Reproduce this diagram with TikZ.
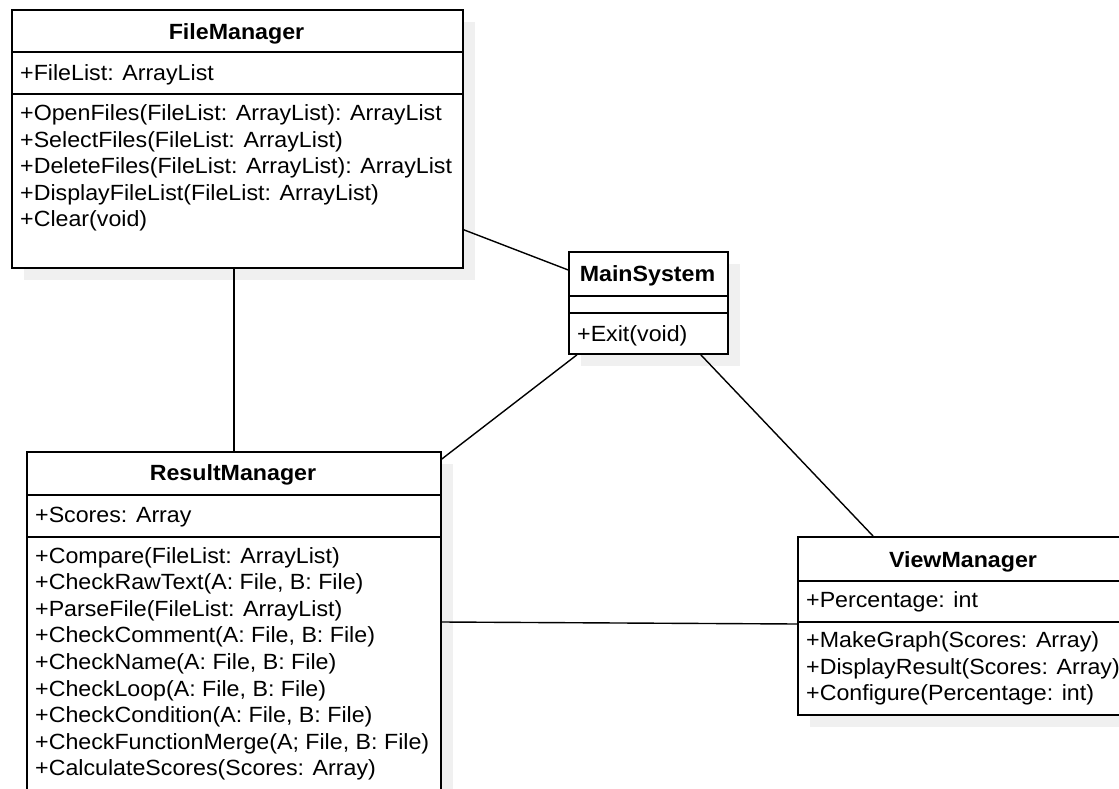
\documentclass[tikz,border=0pt]{standalone}
\usepackage{fontspec}
\setmainfont[FakeStretch=1.055]{Liberation Sans}
\usetikzlibrary{shadows}
\definecolor{shadowgray}{RGB}{240,240,240}
\tikzset{
  classbox/.style={rectangle, draw=black, fill=white, line width=1.8pt, inner sep=0pt, anchor=north west,
    drop shadow={shadow xshift=12pt, shadow yshift=-12pt, fill=shadowgray, opacity=1}},
  sepline/.style={line width=1.8pt, draw=black},
  classtitle/.style={font=\fontsize{22}{26}\selectfont\bfseries, anchor=base, inner sep=0pt},
  member/.style={font=\fontsize{22}{26}\selectfont, anchor=base west, inner sep=0pt},
  assoc/.style={line width=1.4pt, draw=black},
}
\begin{document}
\begin{tikzpicture}[x=1pt, y=-1pt]
\useasboundingbox (0,0) rectangle (1119,789);
\clip (0,0) rectangle (1119,789);

% ---------- FileManager ----------
\node[classbox, minimum width=451pt, minimum height=258pt] (fm) at (11,9) {};
\draw[sepline] ([yshift=-43pt]fm.north west) -- ([yshift=-43pt]fm.north east);
\draw[sepline] ([yshift=-85pt]fm.north west) -- ([yshift=-85pt]fm.north east);
\node[classtitle] (fm-t) at (236.5,39.5) {FileManager};
\node[member] (fm-a1) at (20,81) {+FileList: ArrayList};
\foreach \t [count=\i from 0] in {
  {+OpenFiles(FileList: ArrayList): ArrayList},
  {+SelectFiles(FileList: ArrayList)},
  {+DeleteFiles(FileList: ArrayList): ArrayList},
  {+DisplayFileList(FileList: ArrayList)},
  {+Clear(void)}}
  \node[member] (fm-m\i) at (20,120.7+26.5*\i) {\t};

% ---------- MainSystem ----------
\node[classbox, minimum width=159pt, minimum height=102pt] (ms) at (568,251) {};
\draw[sepline] ([yshift=-45pt]ms.north west) -- ([yshift=-45pt]ms.north east);
\draw[sepline] ([yshift=-62pt]ms.north west) -- ([yshift=-62pt]ms.north east);
\node[classtitle] (ms-t) at (647.5,281.5) {MainSystem};
\node[member] (ms-m0) at (577,341) {+Exit(void)};

% ---------- ResultManager ----------
\node[classbox, minimum width=414pt, minimum height=380pt] (rm) at (26,451) {};
\draw[sepline] ([yshift=-44pt]rm.north west) -- ([yshift=-44pt]rm.north east);
\draw[sepline] ([yshift=-86pt]rm.north west) -- ([yshift=-86pt]rm.north east);
\node[classtitle] (rm-t) at (233,480) {ResultManager};
\node[member] (rm-a1) at (35,522) {+Scores: Array};
\foreach \t [count=\i from 0] in {
  {+Compare(FileList: ArrayList)},
  {+CheckRawText(A: File, B: File)},
  {+ParseFile(FileList: ArrayList)},
  {+CheckComment(A: File, B: File)},
  {+CheckName(A: File, B: File)},
  {+CheckLoop(A: File, B: File)},
  {+CheckCondition(A: File, B: File)},
  {+CheckFunctionMerge(A; File, B: File)},
  {+CalculateScores(Scores: Array)}}
  \node[member] (rm-m\i) at (35,563+26.6*\i) {\t};

% ---------- ViewManager ----------
\node[classbox, minimum width=332pt, minimum height=178pt] (vm) at (797,536) {};
\draw[sepline] ([yshift=-45pt]vm.north west) -- ([yshift=-45pt]vm.north east);
\draw[sepline] ([yshift=-86pt]vm.north west) -- ([yshift=-86pt]vm.north east);
\node[classtitle] (vm-t) at (963,567.5) {ViewManager};
\node[member] (vm-a1) at (806,607) {+Percentage: int};
\foreach \t [count=\i from 0] in {
  {+MakeGraph(Scores: Array)},
  {+DisplayResult(Scores: Array)},
  {+Configure(Percentage: int)}}
  \node[member] (vm-m\i) at (806,647.7+26.6*\i) {\t};

% ---------- associations ----------
\draw[assoc] ([yshift=39pt]fm.south east) -- ([yshift=33pt]ms.west);
\draw[assoc] (fm.south -| rm.north) -- (rm.north);
\draw[assoc] ([xshift=9pt]ms.south west) -- ([yshift=-8pt]rm.north east);
\draw[assoc] ([xshift=-28pt]ms.south east) -- ([xshift=76pt]vm.north west);
\draw[assoc] ([yshift=-171pt]rm.north east) -- ([yshift=-88pt]vm.north west);
\end{tikzpicture}
\end{document}
